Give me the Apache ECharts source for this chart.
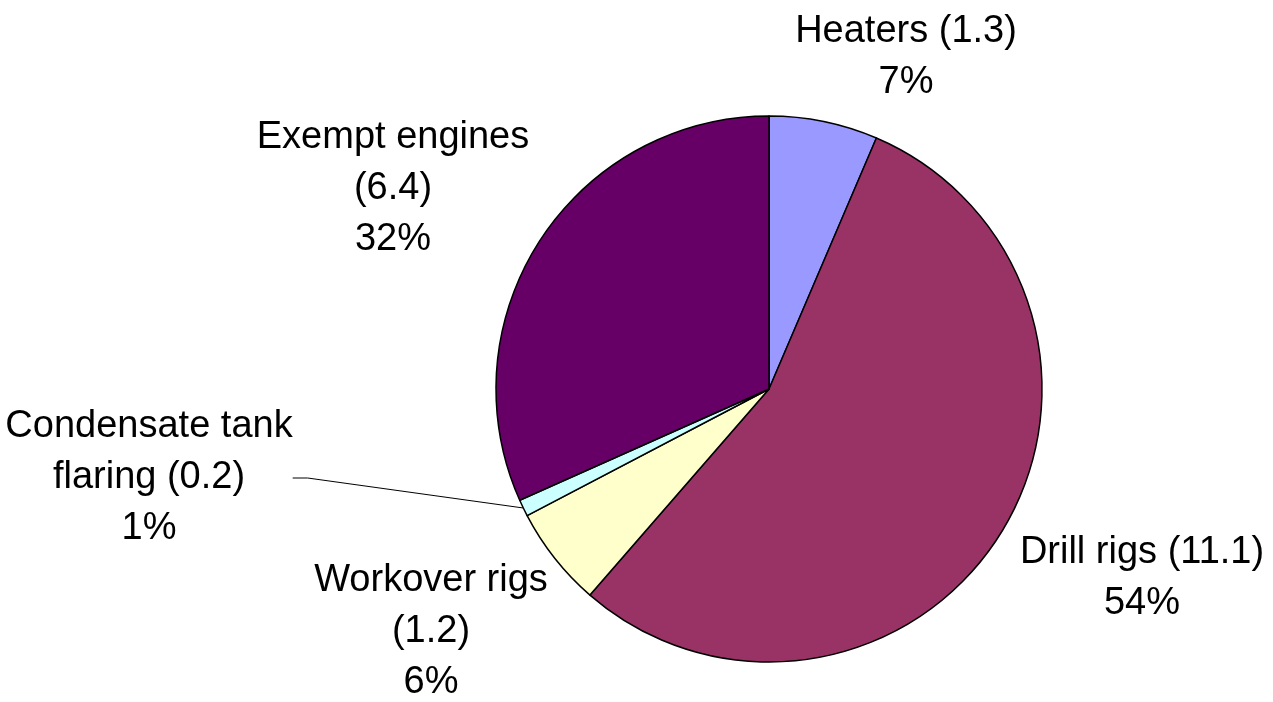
<!DOCTYPE html>
<html>
<head>
<meta charset="utf-8">
<script src="https://cdn.jsdelivr.net/npm/echarts@6/dist/echarts.min.js"></script>
<style>
  html, body { margin: 0; padding: 0; background: #fff; }
  #chart { width: 1273px; height: 702px; }
</style>
</head>
<body>
<div id="chart"></div>
<script>
// slices, clockwise from 12 o'clock
const categories = ['Heaters', 'Drill rigs', 'Workover rigs', 'Condensate tank flaring', 'Exempt engines'];
const values = [1.3, 11.1, 1.2, 0.2, 6.4];
const percentLabels = ['7%', '54%', '6%', '1%', '32%'];
// how each category name is wrapped in its label
const labelNames = ['Heaters (1.3)', 'Drill rigs (11.1)', 'Workover rigs\n(1.2)', 'Condensate tank\nflaring (0.2)', 'Exempt engines\n(6.4)'];
const colors = ['#9999FF', '#993366', '#FFFFCC', '#CCFFFF', '#660066'];

// label block centres (px)
const labelPos = [
  [906, 57],
  [1142, 578],
  [431, 632],
  [149, 478],
  [393, 189]
];

const myChart = echarts.init(document.getElementById('chart'));

const option = {
  animation: false,
  backgroundColor: '#ffffff',
  series: [
    {
      type: 'pie',
      center: [769, 389],
      radius: 273,
      startAngle: 90,
      clockwise: true,
      avoidLabelOverlap: false,
      itemStyle: {
        borderColor: '#000',
        borderWidth: 1.5
      },
      label: {
        show: true,
        position: 'outside',
        fontFamily: 'Liberation Sans, Arial, sans-serif',
        fontSize: 38,
        lineHeight: 51,
        color: '#000',
        align: 'center',
        formatter: (p) => labelNames[p.dataIndex] + '\n' + percentLabels[p.dataIndex]
      },
      labelLine: {
        show: false,
        lineStyle: { color: '#000', width: 1 }
      },
      labelLayout: (p) => ({
        x: labelPos[p.dataIndex][0],
        y: labelPos[p.dataIndex][1],
        align: 'center',
        verticalAlign: 'middle'
      }),
      data: categories.map((c, i) => ({
        name: c,
        value: values[i],
        itemStyle: { color: colors[i] },
        labelLine: { show: i === 3, length: 20, length2: 15 }
      }))
    }
  ]
};

myChart.setOption(option);
</script>
</body>
</html>
